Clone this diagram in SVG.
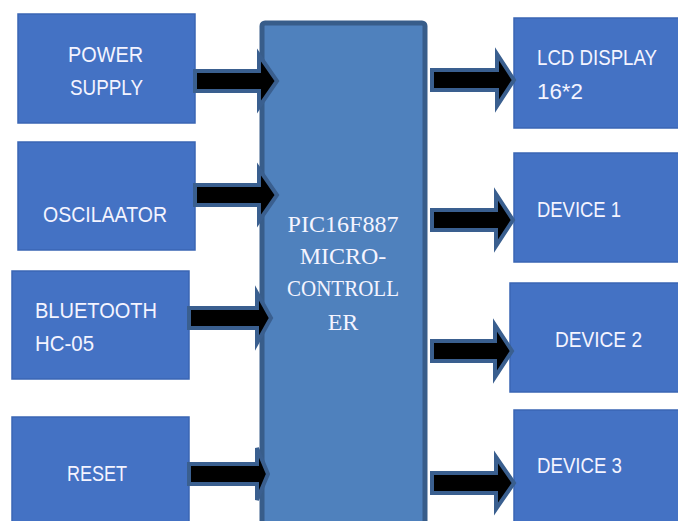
<svg xmlns="http://www.w3.org/2000/svg" width="678" height="521" viewBox="0 0 678 521">
<style>
.box{fill:#4472c4;stroke:#3a66b4;stroke-width:1.5}
.mcu{fill:#4f81bd;stroke:#385d8a;stroke-width:5}
.t{font-family:"Liberation Sans",Arial,sans-serif;font-size:22px;fill:#f4f4ff}
.s{font-family:"Liberation Serif","Times New Roman",serif;font-size:24px;fill:#f4f4ff;text-anchor:middle}
.arr{fill:#000;stroke:#3a5f8f;stroke-width:4;stroke-linejoin:miter}
</style>
<rect width="678" height="521" fill="#fff"/>
<g id="power">
<rect class="box" x="18" y="14" width="177" height="109"/>
<text class="t" x="68" y="62" textLength="75" lengthAdjust="spacingAndGlyphs">POWER</text>
<text class="t" x="70" y="95" textLength="73" lengthAdjust="spacingAndGlyphs">SUPPLY</text>
</g>
<g id="oscillator">
<rect class="box" x="18" y="142" width="177" height="108"/>
<text class="t" x="43" y="222" textLength="124" lengthAdjust="spacingAndGlyphs">OSCILAATOR</text>
</g>
<g id="bluetooth">
<rect class="box" x="12" y="271" width="177" height="108"/>
<text class="t" x="35" y="318" textLength="122" lengthAdjust="spacingAndGlyphs">BLUETOOTH</text>
<text class="t" x="35" y="351" textLength="59" lengthAdjust="spacingAndGlyphs">HC-05</text>
</g>
<g id="reset">
<rect class="box" x="12" y="417" width="177" height="110"/>
<text class="t" x="67" y="481" textLength="60" lengthAdjust="spacingAndGlyphs">RESET</text>
</g>
<g id="mcu">
<rect class="mcu" x="262" y="23" width="163" height="510" rx="3"/>
<text class="s" x="343" y="232" textLength="111" lengthAdjust="spacingAndGlyphs">PIC16F887</text>
<text class="s" x="343" y="264">MICRO-</text>
<text class="s" x="343" y="296" textLength="112" lengthAdjust="spacingAndGlyphs">CONTROLL</text>
<text class="s" x="343" y="330">ER</text>
</g>
<g id="lcd">
<rect class="box" x="514" y="18" width="170" height="110"/>
<text class="t" x="537" y="65" textLength="120" lengthAdjust="spacingAndGlyphs">LCD DISPLAY</text>
<text class="t" x="537" y="99" textLength="46" lengthAdjust="spacingAndGlyphs">16*2</text>
</g>
<g id="device1">
<rect class="box" x="514" y="153" width="170" height="109"/>
<text class="t" x="537" y="217" textLength="84" lengthAdjust="spacingAndGlyphs">DEVICE 1</text>
</g>
<g id="device2">
<rect class="box" x="510" y="283" width="174" height="109"/>
<text class="t" x="555" y="347" textLength="87" lengthAdjust="spacingAndGlyphs">DEVICE 2</text>
</g>
<g id="device3">
<rect class="box" x="514" y="410" width="170" height="115"/>
<text class="t" x="537" y="473" textLength="85" lengthAdjust="spacingAndGlyphs">DEVICE 3</text>
</g>
<g id="connectors">
<polygon class="arr" points="195,71 259,71 259,55 277,81 259,107 259,91 195,91"/>
<polygon class="arr" points="195,185 259,185 259,169 277,195 259,221 259,205 195,205"/>
<polygon class="arr" points="189,308 257,308 257,293 271,318 257,343 257,328 189,328"/>
<polygon class="arr" points="189,464 257,464 257,448 268,474 257,500 257,484 189,484"/>
<polygon class="arr" points="432,70 497,70 497,54 514,80 497,106 497,90 432,90"/>
<polygon class="arr" points="432,210 496,210 496,194 513,220 496,246 496,230 432,230"/>
<polygon class="arr" points="432,341 495,341 495,325 512,351 495,377 495,361 432,361"/>
<polygon class="arr" points="432,473 496,473 496,457 514,483 496,509 496,493 432,493"/>
</g>
</svg>
